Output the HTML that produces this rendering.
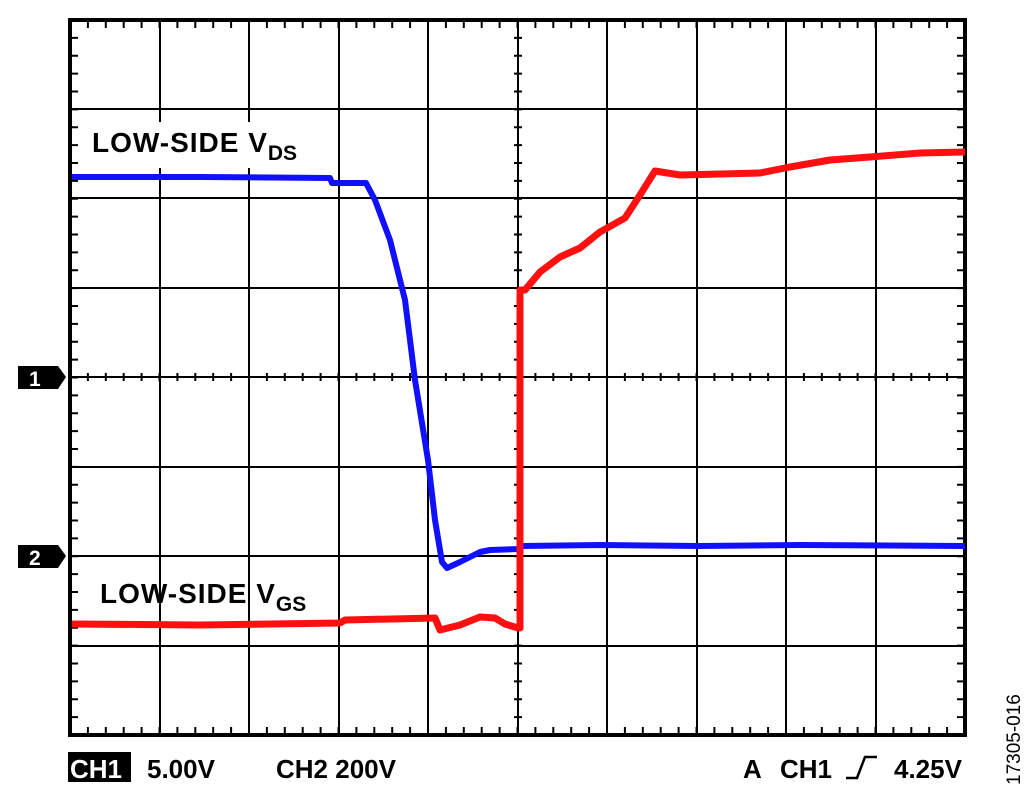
<!DOCTYPE html>
<html><head><style>
body{margin:0;background:#fff;width:1030px;height:795px;overflow:hidden;}
</style></head><body>
<svg width="1030" height="795" xmlns="http://www.w3.org/2000/svg" font-family="Liberation Sans, sans-serif" font-weight="bold">
<g stroke="#000" stroke-width="2">
<line x1="160" y1="20" x2="160" y2="735"/><line x1="249" y1="20" x2="249" y2="735"/><line x1="339" y1="20" x2="339" y2="735"/><line x1="428" y1="20" x2="428" y2="735"/><line x1="518" y1="20" x2="518" y2="735"/><line x1="607" y1="20" x2="607" y2="735"/><line x1="697" y1="20" x2="697" y2="735"/><line x1="786" y1="20" x2="786" y2="735"/><line x1="876" y1="20" x2="876" y2="735"/>
<line x1="70" y1="109" x2="965" y2="109"/><line x1="70" y1="198" x2="965" y2="198"/><line x1="70" y1="288" x2="965" y2="288"/><line x1="70" y1="377" x2="965" y2="377"/><line x1="70" y1="467" x2="965" y2="467"/><line x1="70" y1="556" x2="965" y2="556"/><line x1="70" y1="646" x2="965" y2="646"/>
</g>
<g stroke="#000" stroke-width="8" stroke-dasharray="2 15.9" stroke-dashoffset="1">
<line x1="70" y1="24" x2="966" y2="24"/>
<line x1="70" y1="731" x2="966" y2="731"/>
<line x1="70" y1="377" x2="966" y2="377"/>
</g>
<g stroke="#000" stroke-width="8" stroke-dasharray="2 15.875" stroke-dashoffset="1">
<line x1="74" y1="20" x2="74" y2="736"/>
<line x1="961" y1="20" x2="961" y2="736"/>
<line x1="518" y1="20" x2="518" y2="736"/>
</g>
<rect x="70" y="20" width="895" height="715" fill="none" stroke="#000" stroke-width="4"/>
<polyline fill="none" stroke="#1010ff" stroke-width="6" stroke-linejoin="round" points="72,177 200,177 330,178 332,183 366,183 375,200 390,240 405,300 415,380 428,460 435,520 442,562 447,568 460,562 480,552 490,550 518,549 522,546 600,545 700,546 800,545 965,546"/>
<polyline fill="none" stroke="#ff1010" stroke-width="7" stroke-linejoin="round" points="72,624 200,625 340,623 345,620 435,618 440,630 460,625 480,617 495,618 505,624 518,628 520,628 520,290 525,290 540,272 560,257 580,248 600,232 625,218 640,195 655,171 680,175 720,174 760,173 790,167 830,160 870,157 920,153 965,152"/>
<rect x="86" y="122" width="232" height="46" fill="#fff"/>
<text x="92" y="152" font-size="28" letter-spacing="1">LOW-SIDE V<tspan font-size="21" dy="8" letter-spacing="0">DS</tspan></text>
<text x="100" y="603" font-size="28" letter-spacing="1">LOW-SIDE V<tspan font-size="21" dy="8" letter-spacing="0">GS</tspan></text>
<polygon points="18,366 58,366 66,377 58,389 18,389" fill="#000"/>
<text x="29" y="386" font-size="21" fill="#fff">1</text>
<polygon points="18,545 58,545 66,556 58,568 18,568" fill="#000"/>
<text x="29" y="565" font-size="21" fill="#fff">2</text>
<rect x="68" y="752" width="63" height="30" fill="#000"/>
<text x="70" y="778" font-size="26" fill="#fff">CH1</text>
<text x="147" y="778" font-size="26">5.00V</text>
<text x="276" y="778" font-size="26">CH2 200V</text>
<text x="743" y="778" font-size="26">A</text>
<text x="780" y="778" font-size="26">CH1</text>
<polyline points="846,778 857,778 865,757 877,757" fill="none" stroke="#000" stroke-width="2.5"/>
<text x="894" y="778" font-size="26">4.25V</text>
<text transform="translate(1020,785) rotate(-90)" font-size="19" font-weight="normal">17305-016</text>
</svg>
</body></html>
